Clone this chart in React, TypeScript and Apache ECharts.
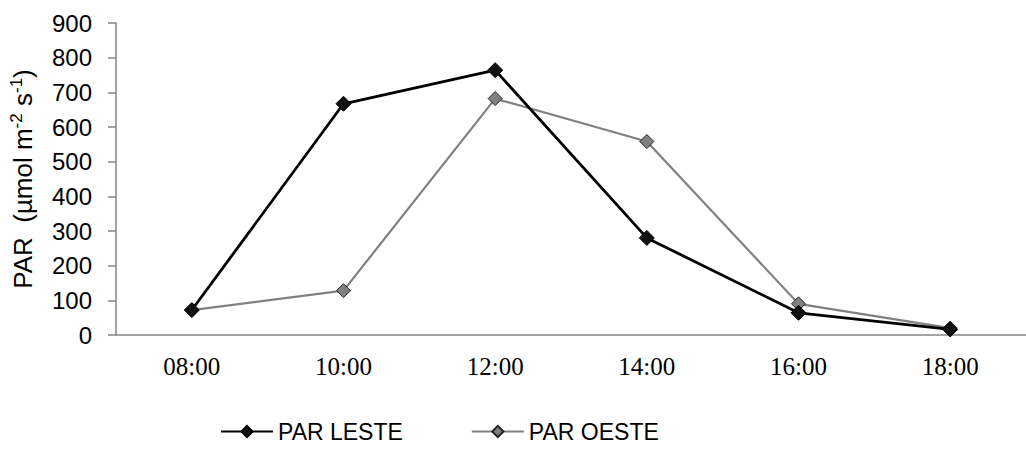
import React, { useEffect, useRef } from "react";
import * as echarts from "echarts";

const categories = ["08:00", "10:00", "12:00", "14:00", "16:00", "18:00"];
const parLeste = [72, 667, 764, 280, 64, 16];
const parOeste = [72, 128, 682, 558, 90, 20];
const seriesNames = ["PAR LESTE", "PAR OESTE"];

export default function App() {
  const ref = useRef<HTMLDivElement>(null);
  useEffect(() => {
    if (!ref.current) return;
    const chart = echarts.init(ref.current, undefined, { renderer: "svg" });
    chart.setOption({
      animation: false,
      backgroundColor: "#ffffff",
      grid: { left: 112, right: -12, top: 23, bottom: 122, containLabel: false },
      legend: {
        left: 220,
        top: 420,
        padding: 0,
        itemWidth: 52,
        itemHeight: 14,
        itemGap: 68,
        textStyle: { fontFamily: "Liberation Sans", fontSize: 23, color: "#000" },
        data: seriesNames,
      },
      xAxis: {
        type: "category",
        data: categories,
        boundaryGap: true,
        axisLine: { lineStyle: { color: "#868686", width: 1.5 } },
        axisTick: { show: false },
        axisLabel: { fontFamily: "Liberation Serif", fontSize: 25, color: "#000", margin: 19 },
      },
      yAxis: {
        type: "value",
        min: 0,
        max: 900,
        interval: 100,
        splitLine: { show: false },
        axisLine: { show: true, lineStyle: { color: "#868686", width: 1.5 } },
        axisTick: { show: true, length: 8, lineStyle: { color: "#868686", width: 1.5 } },
        axisLabel: { fontFamily: "Liberation Sans", fontSize: 24, color: "#000", margin: 24 },
        name: "{a|PAR  (µmol m}{s|-2}{a| s}{s|-1}{a|)}",
        nameLocation: "middle",
        nameGap: 78,
        nameTextStyle: {
          rich: {
            a: { fontFamily: "Liberation Sans", fontSize: 26, color: "#000", lineHeight: 30 },
            s: { fontFamily: "Liberation Sans", fontSize: 17, color: "#000", verticalAlign: "top", lineHeight: 30 },
          },
        },
      },
      series: [
        {
          name: seriesNames[0],
          type: "line",
          data: parLeste,
          symbol: "diamond",
          symbolSize: 15,
          lineStyle: { color: "#000", width: 2.8 },
          itemStyle: { color: "#111", borderColor: "#000", borderWidth: 1 },
          z: 3,
        },
        {
          name: seriesNames[1],
          type: "line",
          data: parOeste,
          symbol: "diamond",
          symbolSize: 14,
          lineStyle: { color: "#808080", width: 2.2 },
          itemStyle: { color: "#808080", borderColor: "#222", borderWidth: 1 },
          z: 2,
        },
      ],
    });
    return () => chart.dispose();
  }, []);
  return <div ref={ref} style={{ width: 1026, height: 457, position: "absolute", left: 0, top: 0 }} />;
}
